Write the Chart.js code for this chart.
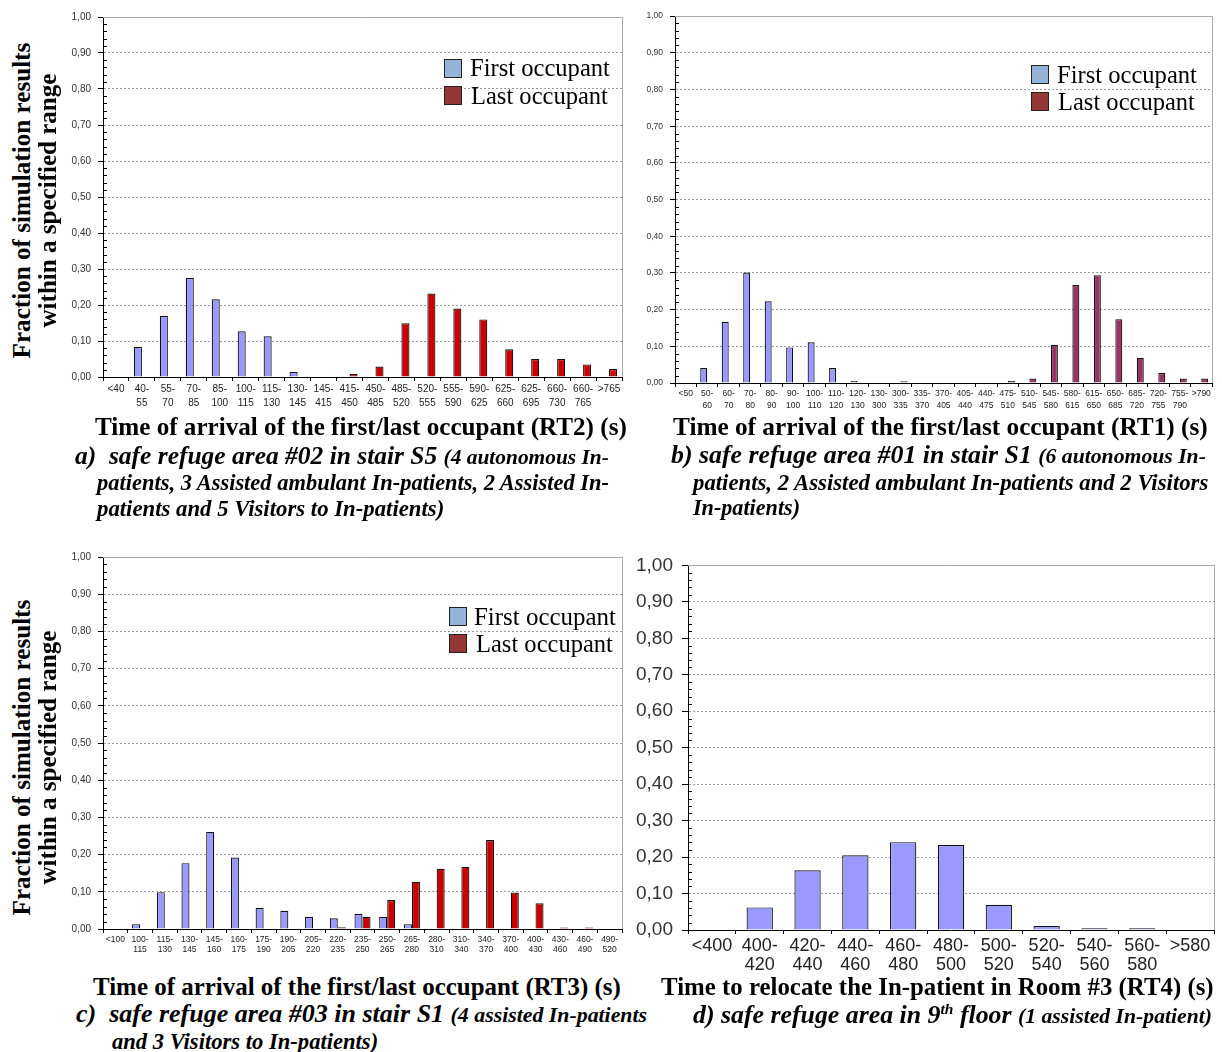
<!DOCTYPE html>
<html>
<head>
<meta charset="utf-8">
<script src="https://cdn.jsdelivr.net/npm/chart.js@4.4.1/dist/chart.umd.min.js"></script>
<style>
  html, body { margin: 0; padding: 0; background: #fff; }
  #page { position: relative; width: 1222px; height: 1052px; overflow: hidden; background: #fff; }
  .box { position: absolute; }
  .txt { position: absolute; white-space: nowrap; line-height: 1; color: #000;
         font-family: "Liberation Serif", "DejaVu Serif", serif; }
  .ttl { font-weight: bold; }
  .cap { font-weight: bold; font-style: italic; }
  .sm { font-size: 0.84em; }
  .sup { font-size: 0.6em; vertical-align: 0.6em; }
  .sq { position: absolute; border: 1.5px solid #222; box-sizing: border-box; }
</style>
</head>
<body>
<div id="page">
  <div class="box" style="left:60px;top:4px"><canvas id="chA" width="570" height="412"></canvas></div>
  <div class="box" style="left:640px;top:4px"><canvas id="chB" width="580" height="412"></canvas></div>
  <div class="box" style="left:60px;top:544px"><canvas id="chC" width="570" height="424"></canvas></div>
  <div class="box" style="left:622px;top:545px"><canvas id="chD" width="600" height="440"></canvas></div>

  <!-- legends -->
  <div class="sq" style="left:444px;top:59px;width:18px;height:19px;background:#95B3D7"></div>
  <div class="sq" style="left:444px;top:86px;width:18px;height:19px;background:#953735"></div>
  <div class="txt" data-w="140" data-cy="68" style="left:470px">First occupant</div>
  <div class="txt" data-w="137" data-cy="96" style="left:471px">Last occupant</div>

  <div class="sq" style="left:1031px;top:65px;width:18px;height:19px;background:#95B3D7"></div>
  <div class="sq" style="left:1031px;top:92px;width:18px;height:19px;background:#953735"></div>
  <div class="txt" data-w="140" data-cy="75" style="left:1057px">First occupant</div>
  <div class="txt" data-w="137" data-cy="102" style="left:1058px">Last occupant</div>

  <div class="sq" style="left:449px;top:607px;width:18px;height:19px;background:#95B3D7"></div>
  <div class="sq" style="left:449px;top:634px;width:18px;height:19px;background:#953735"></div>
  <div class="txt" data-w="142" data-cy="617" style="left:474px">First occupant</div>
  <div class="txt" data-w="137" data-cy="644" style="left:476px">Last occupant</div>

  <!-- vertical axis titles -->
  <div class="txt ttl" data-w="316" data-cx="22" data-cy="200" data-rot="1">Fraction of simulation results</div>
  <div class="txt ttl" data-w="254" data-cx="48" data-cy="200" data-rot="1">within a specified range</div>
  <div class="txt ttl" data-w="316" data-cx="22" data-cy="757" data-rot="1">Fraction of simulation results</div>
  <div class="txt ttl" data-w="254" data-cx="48" data-cy="757" data-rot="1">within a specified range</div>

  <!-- panel a captions -->
  <div class="txt ttl" data-w="532" data-cy="426" style="left:95px">Time of arrival of the first/last occupant (RT2) (s)</div>
  <div class="txt cap" data-w="534" data-cy="455" style="left:75px">a)&nbsp; safe refuge area #02 in stair S5 <span class="sm">(4 autonomous In-</span></div>
  <div class="txt cap" data-w="512" data-cy="481" style="left:97px"><span class="sm">patients, 3 Assisted ambulant In-patients, 2 Assisted In-</span></div>
  <div class="txt cap" data-w="347" data-cy="507" style="left:97px"><span class="sm">patients and 5 Visitors to In-patients)</span></div>

  <!-- panel b captions -->
  <div class="txt ttl" data-w="535" data-cy="426" style="left:673px">Time of arrival of the first/last occupant (RT1) (s)</div>
  <div class="txt cap" data-w="535" data-cy="455" style="left:671px">b) safe refuge area #01 in stair S1 <span class="sm">(6 autonomous In-</span></div>
  <div class="txt cap" data-w="515" data-cy="481" style="left:693px"><span class="sm">patients, 2 Assisted ambulant In-patients and 2 Visitors</span></div>
  <div class="txt cap" data-w="107" data-cy="507" style="left:693px"><span class="sm">In-patients)</span></div>

  <!-- panel c captions -->
  <div class="txt ttl" data-w="528" data-cy="987" style="left:93px">Time of arrival of the first/last occupant (RT3) (s)</div>
  <div class="txt cap" data-w="571" data-cy="1014" style="left:76px">c)&nbsp; safe refuge area #03 in stair S1 <span class="sm">(4 assisted In-patients</span></div>
  <div class="txt cap" data-w="266" data-cy="1040" style="left:112px"><span class="sm">and 3 Visitors to In-patients)</span></div>

  <!-- panel d captions -->
  <div class="txt ttl" data-w="553" data-cy="987" style="left:661px">Time to relocate the In-patient in Room #3 (RT4) (s)</div>
  <div class="txt cap" data-w="519" data-cy="1014" style="left:693px">d) safe refuge area in 9<span class="sup">th</span> floor <span class="sm">(1 assisted In-patient)</span></div>
</div>

<script>
// ---------- data ----------
const yTickLabels = ['0,00','0,10','0,20','0,30','0,40','0,50','0,60','0,70','0,80','0,90','1,00'];

// (a) RT2, safe refuge area #02, stair S5
const catsA = ['<40','40-55','55-70','70-85','85-100','100-115','115-130','130-145','145-415','415-450',
               '450-485','485-520','520-555','555-590','590-625','625-660','625-695','660-730','660-765','>765'];
const firstA = [0, 0.084, 0.170, 0.275, 0.216, 0.127, 0.113, 0.014, 0, 0,
                0, 0, 0, 0, 0, 0, 0, 0, 0, 0];
const lastA  = [0, 0, 0, 0, 0, 0, 0, 0, 0, 0.008,
                0.029, 0.149, 0.232, 0.190, 0.160, 0.077, 0.050, 0.050, 0.035, 0.022];

// (b) RT1, safe refuge area #01, stair S1
const catsB = ['<50','50-60','60-70','70-80','80-90','90-100','100-110','110-120','120-130','130-300',
               '300-335','335-370','370-405','405-440','440-475','475-510','510-545','545-580','580-615',
               '615-650','650-685','685-720','720-755','755-790','>790'];
const firstB = [0, 0.041, 0.167, 0.301, 0.223, 0.097, 0.111, 0.041, 0.006, 0,
                0, 0, 0, 0, 0, 0, 0, 0, 0, 0, 0, 0, 0, 0, 0];
const lastB  = [0, 0, 0, 0, 0, 0, 0, 0, 0, 0,
                0.005, 0, 0, 0, 0, 0.006, 0.012, 0.104, 0.267, 0.294, 0.174, 0.069, 0.027, 0.012, 0.012];

// (c) RT3, safe refuge area #03, stair S1
const catsC = ['<100','100-115','115-130','130-145','145-160','160-175','175-190','190-205','205-220','220-235',
               '235-250','250-265','265-280','280-310','310-340','340-370','370-400','400-430','430-460',
               '460-490','490-520'];
const firstC = [0, 0.013, 0.099, 0.177, 0.261, 0.192, 0.057, 0.049, 0.033, 0.029,
                0.041, 0.033, 0.013, 0, 0, 0, 0, 0, 0, 0, 0];
const lastC  = [0, 0, 0, 0, 0, 0, 0, 0, 0, 0.005,
                0.033, 0.078, 0.127, 0.162, 0.167, 0.239, 0.098, 0.069, 0.004, 0.004, 0];

// (d) RT4, relocation of the in-patient in room #3
const catsD = ['<400','400-420','420-440','440-460','460-480','480-500','500-520','520-540','540-560','560-580','>580'];
const timesD = [0, 0.062, 0.164, 0.205, 0.241, 0.233, 0.069, 0.011, 0.0045, 0.0045, 0];

// ---------- drawing ----------
const splitLabel = s => {
  const i = s.indexOf('-');
  return i > 0 ? [s.slice(0, i + 1), s.slice(i + 1)] : s;
};

// gray plot frame on top/right and small minor ticks along the value axis
const frameAndMinor = {
  id: 'frameAndMinor',
  beforeDatasetsDraw(chart) {
    const { ctx, chartArea: a } = chart;
    ctx.save();
    ctx.strokeStyle = '#a8a8a8';
    ctx.lineWidth = 1;
    ctx.beginPath();
    ctx.moveTo(a.left, Math.round(a.top) + 0.5);
    ctx.lineTo(Math.round(a.right) + 0.5, Math.round(a.top) + 0.5);
    ctx.lineTo(Math.round(a.right) + 0.5, a.bottom);
    ctx.stroke();
    ctx.restore();
  },
  afterDraw(chart) {
    const { ctx } = chart;
    const y = chart.scales.y;
    const x0 = Math.round(y.right);
    ctx.save();
    ctx.strokeStyle = '#000';
    ctx.lineWidth = 1;
    ctx.beginPath();
    for (let i = 1; i < 50; i++) {
      if (i % 5 === 0) continue;
      const py = Math.round(y.getPixelForValue(i / 50)) + 0.5;
      ctx.moveTo(x0, py);
      ctx.lineTo(x0 + 4, py);
    }
    ctx.stroke();
    ctx.restore();
  }
};

function buildChart(id, cats, series, o) {
  const datasets = series.map(s => ({
    label: s.label,
    data: s.data,
    backgroundColor: s.color,
    borderColor: '#111',
    borderWidth: ctx => (ctx.raw > 0 ? 1.2 : 0),
    categoryPercentage: o.catPct,
    barPercentage: 1
  }));
  return new Chart(document.getElementById(id), {
    type: 'bar',
    data: { labels: cats.map(splitLabel), datasets },
    plugins: [frameAndMinor],
    options: {
      responsive: false,
      animation: false,
      devicePixelRatio: 1,
      layout: { padding: { left: 0, right: o.padR, top: o.padT, bottom: 0 } },
      plugins: { legend: { display: false }, tooltip: { enabled: false } },
      scales: {
        x: {
          offset: true,
          grid: { offset: true, drawOnChartArea: false, drawTicks: true, tickLength: 4, tickColor: '#000', color: '#000' },
          border: { color: '#000', width: 1 },
          ticks: {
            autoSkip: false, maxRotation: 0, minRotation: 0, padding: o.xPad, color: '#222',
            font: { family: 'Liberation Sans', size: o.xFont, lineHeight: o.xLH }
          },
          afterFit(s) { s.height = o.xH; }
        },
        y: {
          min: 0, max: 1,
          ticks: {
            stepSize: 0.1, padding: o.yPad, color: '#333',
            font: { family: 'Liberation Sans', size: o.yFont },
            callback: (v, i) => yTickLabels[i]
          },
          grid: {
            color: ctx => (ctx.tick && ctx.tick.value > 0.001 && ctx.tick.value < 0.999) ? '#9a9a9a' : 'rgba(0,0,0,0)',
            tickColor: '#000', tickLength: o.yTick, tickBorderDash: [], tickWidth: 1, lineWidth: 1
          },
          border: { color: '#000', width: 1, dash: [2, 2] },
          afterFit(s) { s.width = o.yW; }
        }
      }
    }
  });
}

const BLUE = '#9999FF', RED = '#CC0000', MAROON = '#993366';

buildChart('chA', catsA,
  [{ label: 'First occupant', data: firstA, color: BLUE }, { label: 'Last occupant', data: lastA, color: RED }],
  { padR: 8, padT: 10, yW: 43, xH: 39, catPct: 0.62, xFont: 10, xLH: 1.4, xPad: 1, yFont: 10, yPad: 7, yTick: 5 });

buildChart('chB', catsB,
  [{ label: 'First occupant', data: firstB, color: BLUE }, { label: 'Last occupant', data: lastB, color: MAROON }],
  { padR: 8, padT: 10, yW: 35, xH: 33, catPct: 0.65, xFont: 8.5, xLH: 1.35, xPad: 1, yFont: 8.5, yPad: 7, yTick: 5 });

buildChart('chC', catsC,
  [{ label: 'First occupant', data: firstC, color: BLUE }, { label: 'Last occupant', data: lastC, color: RED }],
  { padR: 8, padT: 11, yW: 43, xH: 39, catPct: 0.65, xFont: 8.5, xLH: 1.25, xPad: 1, yFont: 10, yPad: 7, yTick: 5 });

buildChart('chD', catsD,
  [{ label: 'First occupant', data: timesD, color: BLUE }],
  { padR: 8, padT: 12, yW: 66, xH: 55, catPct: 0.55, xFont: 18, xLH: 1.05, xPad: 3, yFont: 19, yPad: 9, yTick: 6 });

// ---------- text placement ----------
document.querySelectorAll('.txt').forEach(el => {
  const target = +el.dataset.w;
  el.style.fontSize = '20px';
  const w = el.getBoundingClientRect().width;
  el.style.fontSize = (20 * target / w) + 'px';
  const h = el.offsetHeight;
  const cy = +el.dataset.cy;
  if (el.dataset.rot) {
    const cx = +el.dataset.cx;
    const w2 = el.offsetWidth;
    el.style.left = (cx - w2 / 2) + 'px';
    el.style.top = (cy - h / 2) + 'px';
    el.style.transform = 'rotate(-90deg)';
  } else {
    el.style.top = (cy - h / 2) + 'px';
  }
});
</script>
</body>
</html>
